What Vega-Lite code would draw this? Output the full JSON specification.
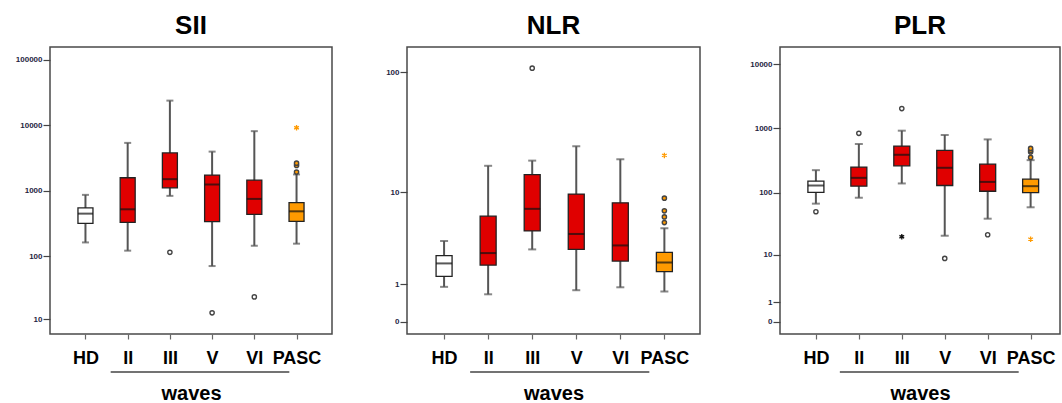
{
  "$schema": "https://vega.github.io/schema/vega-lite/v6.json",
  "padding": {"left": 0, "top": 12, "right": 0, "bottom": 0},
  "background": "white",
  "spacing": 33,
  "datasets": {
    "boxes": [
      {"panel": "SII", "group": "HD", "lo": 162, "q1": 318, "med": 448, "q3": 547, "hi": 868},
      {"panel": "SII", "group": "II", "lo": 121, "q1": 330, "med": 522, "q3": 1585, "hi": 5410},
      {"panel": "SII", "group": "III", "lo": 838, "q1": 1112, "med": 1510, "q3": 3795, "hi": 23950},
      {"panel": "SII", "group": "V", "lo": 70, "q1": 337, "med": 1251, "q3": 1742, "hi": 3980},
      {"panel": "SII", "group": "VI", "lo": 144, "q1": 437, "med": 753, "q3": 1459, "hi": 8180},
      {"panel": "SII", "group": "PASC", "lo": 155, "q1": 341, "med": 486, "q3": 662, "hi": 1783},
      {"panel": "NLR", "group": "HD", "lo": 0.905, "q1": 1.31, "med": 1.94, "q3": 2.39, "hi": 3.45},
      {"panel": "NLR", "group": "II", "lo": 0.66, "q1": 1.85, "med": 2.56, "q3": 6.05, "hi": 16.9},
      {"panel": "NLR", "group": "III", "lo": 2.81, "q1": 4.36, "med": 7.07, "q3": 14.2, "hi": 18.7},
      {"panel": "NLR", "group": "V", "lo": 0.79, "q1": 2.81, "med": 4.07, "q3": 9.6, "hi": 24.7},
      {"panel": "NLR", "group": "VI", "lo": 0.89, "q1": 2.07, "med": 3.1, "q3": 8.02, "hi": 19.2},
      {"panel": "NLR", "group": "PASC", "lo": 0.75, "q1": 1.53, "med": 1.99, "q3": 2.61, "hi": 4.64},
      {"panel": "PLR", "group": "HD", "lo": 67, "q1": 101, "med": 129, "q3": 151, "hi": 224},
      {"panel": "PLR", "group": "II", "lo": 83, "q1": 126, "med": 170, "q3": 250, "hi": 572},
      {"panel": "PLR", "group": "III", "lo": 139, "q1": 262, "med": 389, "q3": 531, "hi": 922},
      {"panel": "PLR", "group": "V", "lo": 20.6, "q1": 129, "med": 244, "q3": 455, "hi": 790},
      {"panel": "PLR", "group": "VI", "lo": 38.7, "q1": 105, "med": 147, "q3": 278, "hi": 675},
      {"panel": "PLR", "group": "PASC", "lo": 58.7, "q1": 100, "med": 126, "q3": 162, "hi": 321}
    ],
    "outliers": [
      {"panel": "SII", "group": "III", "value": 114, "kind": "circle"},
      {"panel": "SII", "group": "V", "value": 12.7, "kind": "circle"},
      {"panel": "SII", "group": "VI", "value": 23, "kind": "circle"},
      {"panel": "SII", "group": "PASC", "value": 1936, "kind": "circle"},
      {"panel": "SII", "group": "PASC", "value": 2450, "kind": "circle"},
      {"panel": "SII", "group": "PASC", "value": 2650, "kind": "circle"},
      {"panel": "SII", "group": "PASC", "value": 9200, "kind": "star"},
      {"panel": "NLR", "group": "III", "value": 108, "kind": "circle"},
      {"panel": "NLR", "group": "PASC", "value": 8.84, "kind": "circle"},
      {"panel": "NLR", "group": "PASC", "value": 6.78, "kind": "circle"},
      {"panel": "NLR", "group": "PASC", "value": 5.95, "kind": "circle"},
      {"panel": "NLR", "group": "PASC", "value": 5.26, "kind": "circle"},
      {"panel": "NLR", "group": "PASC", "value": 20.7, "kind": "star"},
      {"panel": "PLR", "group": "HD", "value": 50, "kind": "circle"},
      {"panel": "PLR", "group": "II", "value": 838, "kind": "circle"},
      {"panel": "PLR", "group": "III", "value": 2030, "kind": "circle"},
      {"panel": "PLR", "group": "III", "value": 19.8, "kind": "star"},
      {"panel": "PLR", "group": "V", "value": 8.6, "kind": "circle"},
      {"panel": "PLR", "group": "VI", "value": 21.4, "kind": "circle"},
      {"panel": "PLR", "group": "PASC", "value": 354, "kind": "circle"},
      {"panel": "PLR", "group": "PASC", "value": 430, "kind": "circle"},
      {"panel": "PLR", "group": "PASC", "value": 455, "kind": "circle"},
      {"panel": "PLR", "group": "PASC", "value": 489, "kind": "circle"},
      {"panel": "PLR", "group": "PASC", "value": 18.1, "kind": "star"}
    ]
  },
  "config": {
    "font": "Liberation Sans",
    "view": {"stroke": "#4a4a4a", "strokeWidth": 1.5},
    "title": {"fontSize": 26, "fontWeight": "bold", "anchor": "middle", "color": "black", "offset": 8},
    "axis": {"grid": false, "domain": false},
    "axisX": {"labelFontSize": 18, "labelFontWeight": "bold", "labelColor": "black", "labelAngle": 0, "labelPadding": 10, "tickSize": 5, "tickColor": "#666", "tickWidth": 1.2, "titleFontSize": 20, "titleFontWeight": "bold", "titleColor": "black", "titlePadding": 16},
    "axisY": {"labelFontSize": 8, "labelFontWeight": "bold", "labelColor": "#1f1f3f", "tickSize": 7, "tickColor": "#444", "tickWidth": 1.2, "labelPadding": 1}
  },
  "hconcat": [
    {
      "title": "SII",
      "width": 282,
      "height": 287,
      "layer": [
        {
          "data": {"name": "boxes"},
          "transform": [{"filter": "datum.panel === 'SII'"}],
          "mark": {"type": "rule", "color": "#555", "strokeWidth": 2},
          "encoding": {
            "x": {"field": "group", "type": "nominal", "scale": {"type": "point", "domain": ["HD", "II", "III", "V", "VI", "PASC"], "padding": 0.84, "align": 0.5}, "axis": {"title": "waves", "minExtent": 10}},
            "y": {"field": "lo", "type": "quantitative", "scale": {"type": "symlog", "constant": 1, "domain": [5.5, 158000], "nice": false, "zero": false}, "axis": {"title": null, "values": [10, 100, 1000, 10000, 100000], "format": "d", "minExtent": 49, "maxExtent": 49}},
            "y2": {"field": "hi"}
          }
        },
        {
          "data": {"name": "boxes"},
          "transform": [{"filter": "datum.panel === 'SII'"}],
          "mark": {"type": "tick", "orient": "horizontal", "size": 7, "thickness": 2, "color": "#555"},
          "encoding": {"x": {"field": "group", "type": "nominal"}, "y": {"field": "lo", "type": "quantitative"}}
        },
        {
          "data": {"name": "boxes"},
          "transform": [{"filter": "datum.panel === 'SII'"}],
          "mark": {"type": "tick", "orient": "horizontal", "size": 7, "thickness": 2, "color": "#555"},
          "encoding": {"x": {"field": "group", "type": "nominal"}, "y": {"field": "hi", "type": "quantitative"}}
        },
        {
          "data": {"name": "boxes"},
          "transform": [{"filter": "datum.panel === 'SII'"}],
          "mark": {"type": "bar", "width": 15, "stroke": "#222", "strokeWidth": 1.3},
          "encoding": {
            "x": {"field": "group", "type": "nominal"},
            "y": {"field": "q1", "type": "quantitative"},
            "y2": {"field": "q3"},
            "fill": {"field": "group", "type": "nominal", "scale": {"domain": ["HD", "II", "III", "V", "VI", "PASC"], "range": ["#ffffff", "#e00000", "#e00000", "#e00000", "#e00000", "#ff9a00"]}, "legend": null}
          }
        },
        {
          "data": {"name": "boxes"},
          "transform": [{"filter": "datum.panel === 'SII'"}],
          "mark": {"type": "tick", "orient": "horizontal", "size": 15, "thickness": 2, "color": "#111"},
          "encoding": {"x": {"field": "group", "type": "nominal"}, "y": {"field": "med", "type": "quantitative"}}
        },
        {
          "data": {"name": "outliers"},
          "transform": [{"filter": "datum.panel === 'SII' && datum.kind === 'circle'"}],
          "mark": {"type": "point", "shape": "circle", "size": 18, "strokeWidth": 1.4, "stroke": "#444", "opacity": 1},
          "encoding": {
            "x": {"field": "group", "type": "nominal"},
            "y": {"field": "value", "type": "quantitative"},
            "fill": {"condition": {"test": "datum.group === 'PASC'", "value": "#ff9a00"}, "value": "white"}
          }
        },
        {
          "data": {"name": "outliers"},
          "transform": [{"filter": "datum.panel === 'SII' && datum.kind === 'star'"}],
          "mark": {"type": "point", "shape": "M0,-1L0,1M-0.87,-0.5L0.87,0.5M-0.87,0.5L0.87,-0.5", "size": 30, "strokeWidth": 1.3, "filled": false, "opacity": 1},
          "encoding": {
            "x": {"field": "group", "type": "nominal"},
            "y": {"field": "value", "type": "quantitative"},
            "stroke": {"condition": {"test": "datum.group === 'PASC'", "value": "#ff9a00"}, "value": "#111"}
          }
        },
        {
          "data": {"values": [{}]},
          "mark": {"type": "rule", "color": "#444", "strokeWidth": 1.5, "xOffset": -17, "x2Offset": 35, "clip": false},
          "encoding": {
            "x": {"datum": "II", "type": "nominal"},
            "x2": {"datum": "VI"},
            "y": {"datum": 0.7, "type": "quantitative", "scale": {"type": "symlog", "constant": 1, "domain": [5.5, 158000], "nice": false, "zero": false}}
          }
        }
      ]
    },
    {
      "title": "NLR",
      "width": 293,
      "height": 287,
      "layer": [
        {
          "data": {"name": "boxes"},
          "transform": [{"filter": "datum.panel === 'NLR'"}],
          "mark": {"type": "rule", "color": "#555", "strokeWidth": 2},
          "encoding": {
            "x": {"field": "group", "type": "nominal", "scale": {"type": "point", "domain": ["HD", "II", "III", "V", "VI", "PASC"], "padding": 0.825, "align": 0.51}, "axis": {"title": "waves", "minExtent": 10}},
            "y": {"field": "lo", "type": "quantitative", "scale": {"type": "symlog", "constant": 1, "domain": [-0.256, 160.3], "nice": false, "zero": false}, "axis": {"title": null, "values": [0, 1, 10, 100], "format": "d", "minExtent": 40, "maxExtent": 40}},
            "y2": {"field": "hi"}
          }
        },
        {
          "data": {"name": "boxes"},
          "transform": [{"filter": "datum.panel === 'NLR'"}],
          "mark": {"type": "tick", "orient": "horizontal", "size": 8, "thickness": 2, "color": "#555"},
          "encoding": {"x": {"field": "group", "type": "nominal"}, "y": {"field": "lo", "type": "quantitative"}}
        },
        {
          "data": {"name": "boxes"},
          "transform": [{"filter": "datum.panel === 'NLR'"}],
          "mark": {"type": "tick", "orient": "horizontal", "size": 8, "thickness": 2, "color": "#555"},
          "encoding": {"x": {"field": "group", "type": "nominal"}, "y": {"field": "hi", "type": "quantitative"}}
        },
        {
          "data": {"name": "boxes"},
          "transform": [{"filter": "datum.panel === 'NLR'"}],
          "mark": {"type": "bar", "width": 16, "stroke": "#222", "strokeWidth": 1.3},
          "encoding": {
            "x": {"field": "group", "type": "nominal"},
            "y": {"field": "q1", "type": "quantitative"},
            "y2": {"field": "q3"},
            "fill": {"field": "group", "type": "nominal", "scale": {"domain": ["HD", "II", "III", "V", "VI", "PASC"], "range": ["#ffffff", "#e00000", "#e00000", "#e00000", "#e00000", "#ff9a00"]}, "legend": null}
          }
        },
        {
          "data": {"name": "boxes"},
          "transform": [{"filter": "datum.panel === 'NLR'"}],
          "mark": {"type": "tick", "orient": "horizontal", "size": 16, "thickness": 2, "color": "#111"},
          "encoding": {"x": {"field": "group", "type": "nominal"}, "y": {"field": "med", "type": "quantitative"}}
        },
        {
          "data": {"name": "outliers"},
          "transform": [{"filter": "datum.panel === 'NLR' && datum.kind === 'circle'"}],
          "mark": {"type": "point", "shape": "circle", "size": 18, "strokeWidth": 1.4, "stroke": "#444", "opacity": 1},
          "encoding": {
            "x": {"field": "group", "type": "nominal"},
            "y": {"field": "value", "type": "quantitative"},
            "fill": {"condition": {"test": "datum.group === 'PASC'", "value": "#ff9a00"}, "value": "white"}
          }
        },
        {
          "data": {"name": "outliers"},
          "transform": [{"filter": "datum.panel === 'NLR' && datum.kind === 'star'"}],
          "mark": {"type": "point", "shape": "M0,-1L0,1M-0.87,-0.5L0.87,0.5M-0.87,0.5L0.87,-0.5", "size": 30, "strokeWidth": 1.3, "filled": false, "opacity": 1},
          "encoding": {
            "x": {"field": "group", "type": "nominal"},
            "y": {"field": "value", "type": "quantitative"},
            "stroke": {"condition": {"test": "datum.group === 'PASC'", "value": "#ff9a00"}, "value": "#111"}
          }
        },
        {
          "data": {"values": [{}]},
          "mark": {"type": "rule", "color": "#444", "strokeWidth": 1.5, "xOffset": -18, "x2Offset": 29, "clip": false},
          "encoding": {
            "x": {"datum": "II", "type": "nominal"},
            "x2": {"datum": "VI"},
            "y": {"datum": -1.537, "type": "quantitative", "scale": {"type": "symlog", "constant": 1, "domain": [-0.256, 160.3], "nice": false, "zero": false}}
          }
        }
      ]
    },
    {
      "title": "PLR",
      "width": 280,
      "height": 287,
      "layer": [
        {
          "data": {"name": "boxes"},
          "transform": [{"filter": "datum.panel === 'PLR'"}],
          "mark": {"type": "rule", "color": "#555", "strokeWidth": 2},
          "encoding": {
            "x": {"field": "group", "type": "nominal", "scale": {"type": "point", "domain": ["HD", "II", "III", "V", "VI", "PASC"], "padding": 0.76, "align": 0.55}, "axis": {"title": "waves", "minExtent": 10}},
            "y": {"field": "lo", "type": "quantitative", "scale": {"type": "symlog", "constant": 1, "domain": [-0.552, 18370], "nice": false, "zero": false}, "axis": {"title": null, "values": [0, 1, 10, 100, 1000, 10000], "format": "d", "minExtent": 45, "maxExtent": 45}},
            "y2": {"field": "hi"}
          }
        },
        {
          "data": {"name": "boxes"},
          "transform": [{"filter": "datum.panel === 'PLR'"}],
          "mark": {"type": "tick", "orient": "horizontal", "size": 8, "thickness": 2, "color": "#555"},
          "encoding": {"x": {"field": "group", "type": "nominal"}, "y": {"field": "lo", "type": "quantitative"}}
        },
        {
          "data": {"name": "boxes"},
          "transform": [{"filter": "datum.panel === 'PLR'"}],
          "mark": {"type": "tick", "orient": "horizontal", "size": 8, "thickness": 2, "color": "#555"},
          "encoding": {"x": {"field": "group", "type": "nominal"}, "y": {"field": "hi", "type": "quantitative"}}
        },
        {
          "data": {"name": "boxes"},
          "transform": [{"filter": "datum.panel === 'PLR'"}],
          "mark": {"type": "bar", "width": 16, "stroke": "#222", "strokeWidth": 1.3},
          "encoding": {
            "x": {"field": "group", "type": "nominal"},
            "y": {"field": "q1", "type": "quantitative"},
            "y2": {"field": "q3"},
            "fill": {"field": "group", "type": "nominal", "scale": {"domain": ["HD", "II", "III", "V", "VI", "PASC"], "range": ["#ffffff", "#e00000", "#e00000", "#e00000", "#e00000", "#ff9a00"]}, "legend": null}
          }
        },
        {
          "data": {"name": "boxes"},
          "transform": [{"filter": "datum.panel === 'PLR'"}],
          "mark": {"type": "tick", "orient": "horizontal", "size": 16, "thickness": 2, "color": "#111"},
          "encoding": {"x": {"field": "group", "type": "nominal"}, "y": {"field": "med", "type": "quantitative"}}
        },
        {
          "data": {"name": "outliers"},
          "transform": [{"filter": "datum.panel === 'PLR' && datum.kind === 'circle'"}],
          "mark": {"type": "point", "shape": "circle", "size": 18, "strokeWidth": 1.4, "stroke": "#444", "opacity": 1},
          "encoding": {
            "x": {"field": "group", "type": "nominal"},
            "y": {"field": "value", "type": "quantitative"},
            "fill": {"condition": {"test": "datum.group === 'PASC'", "value": "#ff9a00"}, "value": "white"}
          }
        },
        {
          "data": {"name": "outliers"},
          "transform": [{"filter": "datum.panel === 'PLR' && datum.kind === 'star'"}],
          "mark": {"type": "point", "shape": "M0,-1L0,1M-0.87,-0.5L0.87,0.5M-0.87,0.5L0.87,-0.5", "size": 30, "strokeWidth": 1.3, "filled": false, "opacity": 1},
          "encoding": {
            "x": {"field": "group", "type": "nominal"},
            "y": {"field": "value", "type": "quantitative"},
            "stroke": {"condition": {"test": "datum.group === 'PASC'", "value": "#ff9a00"}, "value": "#111"}
          }
        },
        {
          "data": {"values": [{}]},
          "mark": {"type": "rule", "color": "#444", "strokeWidth": 1.5, "xOffset": -19, "x2Offset": 31, "clip": false},
          "encoding": {
            "x": {"datum": "II", "type": "nominal"},
            "x2": {"datum": "VI"},
            "y": {"datum": -5.04, "type": "quantitative", "scale": {"type": "symlog", "constant": 1, "domain": [-0.552, 18370], "nice": false, "zero": false}}
          }
        }
      ]
    }
  ]
}
